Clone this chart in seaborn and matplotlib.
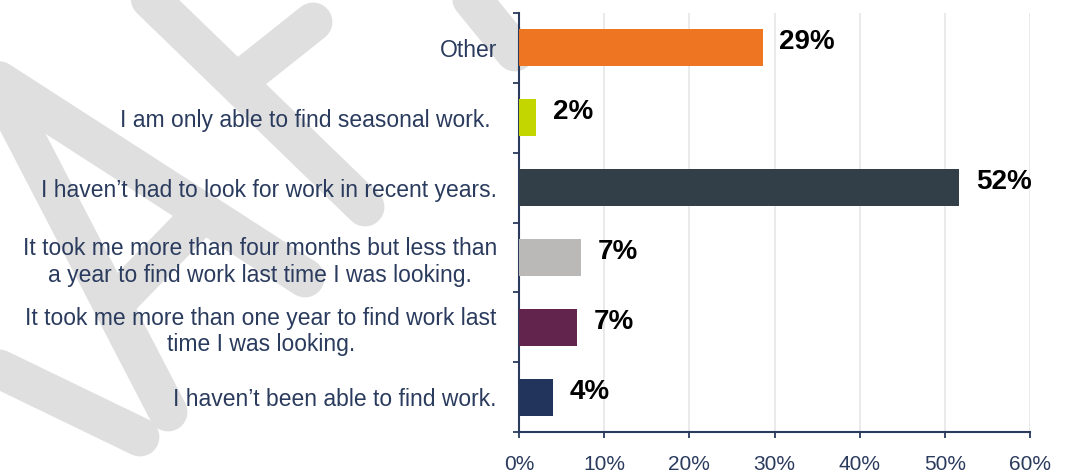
import matplotlib
matplotlib.use("Agg")
import matplotlib.pyplot as plt
import seaborn as sns
import pandas as pd
from matplotlib.lines import Line2D
from matplotlib.ticker import FixedLocator, FuncFormatter

# Survey responses (share of respondents, %)
categories = [
    "Other",
    "I am only able to find seasonal work. ",
    "I haven\u2019t had to look for work in recent years.",
    "It took me more than four months but less than\na year to find work last time I was looking.",
    "It took me more than one year to find work last\ntime I was looking.",
    "I haven\u2019t been able to find work.",
]
shares = [28.6, 2.0, 51.7, 7.3, 6.8, 4.0]
bar_colors = ["#EE7623", "#C4D600", "#333F48", "#BBB8B8", "#62244D", "#22345B"]
x_ticks = [0, 10, 20, 30, 40, 50, 60]

NAVY = "#2A3B5E"
W, H = 1066, 474

sns.set_theme(style="white")
plt.rcParams["font.family"] = ["Liberation Sans", "DejaVu Sans"]

fig = plt.figure(figsize=(W / 100, H / 100), dpi=100)
fig.patch.set_facecolor("white")

# Light "DRAFT" style watermark strokes behind the chart (pixel space)
watermark_strokes = [
    ((-30, 62), (305, 278)),
    ((-25, 40), (168, 412)),
    ((118, 300), (202, 214)),
    ((-40, 350), (140, 437)),
    ((110, -40), (365, 207)),
    ((240, 80), (313, 22)),
    ((440, -40), (515, 52)),
]
for (x0, y0), (x1, y1) in watermark_strokes:
    fig.add_artist(Line2D([x0 / W, x1 / W], [1 - y0 / H, 1 - y1 / H],
                          transform=fig.transFigure, lw=28, color="#DFDFDF",
                          solid_capstyle="round", zorder=0.5))

ax = fig.add_axes([519 / W, 1 - 432 / H, (1030 - 519) / W, (432 - 13) / H])
ax.set_zorder(1)
ax.patch.set_facecolor("none")

df = pd.DataFrame({"category": categories, "share": shares})
sns.barplot(data=df, x="share", y="category", hue="category",
            palette=bar_colors, legend=False, width=0.53, saturation=1,
            orient="h", linewidth=0, ax=ax, zorder=3)

for i, v in enumerate(shares):
    ax.annotate(f"{v:.0f}%", xy=(v, i), xytext=(12, 4), textcoords="offset points",
                ha="left", va="center", fontsize=20, fontweight="bold",
                color="black", zorder=5, annotation_clip=False)

ax.set_xlim(0, 60)
ax.set_ylim(len(categories) - 0.5, -0.5)
ax.set_xlabel("")
ax.set_ylabel("")

ax.xaxis.set_major_locator(FixedLocator(x_ticks))
ax.xaxis.set_major_formatter(FuncFormatter(lambda v, _: f"{v:.0f}%"))
ax.xaxis.grid(True, color="#E6E6E6", lw=1.2)
ax.yaxis.grid(False)
ax.set_axisbelow(True)

ax.set_yticks(range(len(categories)))
ax.set_yticklabels(categories)
for lbl in ax.get_yticklabels():
    lbl.set_multialignment("center")
ax.yaxis.set_minor_locator(FixedLocator([i - 0.5 for i in range(len(categories) + 1)]))

ax.tick_params(axis="y", which="major", length=0, pad=16, labelsize=16.5, labelcolor=NAVY)
ax.tick_params(axis="y", which="minor", length=4.5, width=1.3, color=NAVY, direction="out", left=True)
ax.tick_params(axis="x", which="major", length=4.5, width=1.3, color=NAVY, direction="out",
               bottom=True, pad=12, labelsize=15, labelcolor=NAVY)

for side in ("top", "right"):
    ax.spines[side].set_visible(False)
for side in ("left", "bottom"):
    ax.spines[side].set_color(NAVY)
    ax.spines[side].set_linewidth(1.5)

fig.savefig("out.png", dpi=100, facecolor="white")
